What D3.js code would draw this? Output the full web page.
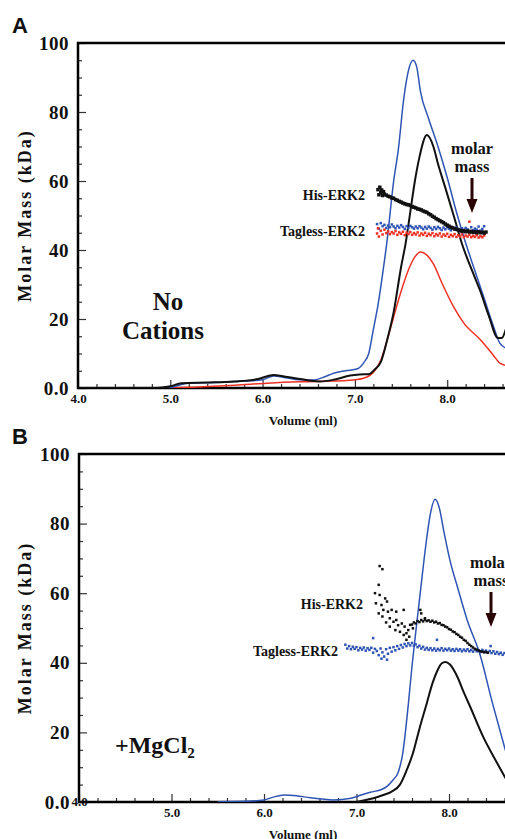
<!DOCTYPE html>
<html>
<head>
<meta charset="utf-8">
<script src="https://cdnjs.cloudflare.com/ajax/libs/d3/7.8.5/d3.min.js"></script>
<style>
body { margin: 0; background: #fff; }
svg { display: block; }
text { font-family: "Liberation Serif", "Times New Roman", serif; font-weight: bold; fill: #111; }
</style>
</head>
<body>
<svg id="chart" width="505" height="839"></svg>
<script>
// axis ticks
var volTicks = [4, 5, 6, 7, 8];
var massTicks = [0, 20, 40, 60, 80, 100];

// panel A traces [volume (ml), signal]
var aBlue = [[4.0,0],[4.8,0],[5.0,0.2],[5.1,0.9],[5.2,1.4],[5.5,1.6],[5.8,2.0],[6.0,2.4],[6.12,3.5],[6.25,3.0],[6.4,2.4],[6.55,2.3],[6.65,3.0],[6.77,4.3],[6.9,5.0],[7.03,5.6],[7.1,7.5],[7.15,10],[7.2,17],[7.25,24],[7.3,33],[7.35,43],[7.42,60],[7.47,69],[7.53,84],[7.58,92],[7.63,95],[7.67,93],[7.71,86],[7.8,78],[7.9,70],[8.0,61],[8.1,51],[8.2,42],[8.3,34],[8.4,26],[8.5,18],[8.57,13],[8.64,11.5]];
var aBlack = [[4.0,0],[4.85,0],[5.0,0.5],[5.12,1.4],[5.4,1.6],[5.69,1.9],[5.95,2.6],[6.05,3.4],[6.12,3.8],[6.22,3.4],[6.35,2.8],[6.5,2.2],[6.62,1.9],[6.77,2.4],[6.95,3.6],[7.05,3.9],[7.15,4.0],[7.22,5.5],[7.28,7.5],[7.35,14],[7.42,22],[7.5,35],[7.55,42],[7.6,51],[7.65,60],[7.7,67],[7.78,73.3],[7.85,70],[7.9,65],[7.98,58],[8.07,50],[8.17,41],[8.27,34],[8.36,28],[8.45,21],[8.55,14.5],[8.59,14.5],[8.64,17.5]];
var aRed = [[4.0,0],[4.95,0],[5.3,0.3],[5.7,0.8],[6.05,1.4],[6.4,1.8],[6.77,2.0],[6.98,2.3],[7.13,3.2],[7.2,4.5],[7.28,8],[7.36,14.8],[7.42,20.6],[7.5,28],[7.6,35.5],[7.65,38],[7.71,39.4],[7.78,38.5],[7.85,36],[7.95,30],[8.07,23.5],[8.18,18.8],[8.36,14],[8.5,9.5],[8.57,7.2],[8.64,6.5]];

// panel A molar mass points [volume, kDa]
var aHis = [[7.25,57.5],[7.26,56.0],[7.27,58.2],[7.28,56.6],[7.29,57.4],[7.30,55.8],[7.31,56.9],[7.32,56.2],[7.34,55.9],[7.36,55.6],[7.38,55.4],[7.40,55.1],[7.42,55.0],[7.44,54.6],[7.46,54.4],[7.48,54.1],[7.50,53.9],[7.52,53.6],[7.54,53.4],[7.56,53.2],[7.58,53.1],[7.60,52.9],[7.62,52.6],[7.64,52.4],[7.66,52.2],[7.68,51.9],[7.70,51.8],[7.72,51.6],[7.74,51.3],[7.76,51.1],[7.78,50.9],[7.80,50.5],[7.82,50.2],[7.84,49.8],[7.86,49.5],[7.88,49.1],[7.90,48.8],[7.92,48.5],[7.94,48.2],[7.96,47.9],[7.98,47.5],[8.00,47.2],[8.02,46.9],[8.04,46.6],[8.06,46.4],[8.08,46.2],[8.10,46.0],[8.12,45.8],[8.14,45.7],[8.16,45.4],[8.18,45.6],[8.20,45.3],[8.22,45.5],[8.24,45.2],[8.26,45.4],[8.28,45.1],[8.30,45.3],[8.32,45.0],[8.34,45.3],[8.36,45.0],[8.38,45.2],[8.40,44.9],[8.42,45.2]];
var aTagBlue = [[7.24,47.5],[7.26,46.2],[7.28,47.8],[7.30,46.9],[7.32,47.3],[7.34,46.4],[7.36,47.1],[7.38,46.6],[7.40,47.4],[7.42,46.8],[7.44,46.3],[7.46,47.0],[7.48,46.5],[7.50,47.2],[7.52,46.7],[7.54,46.1],[7.56,46.9],[7.58,46.4],[7.60,47.0],[7.62,46.6],[7.64,46.2],[7.66,46.8],[7.68,46.3],[7.70,46.9],[7.72,46.5],[7.74,46.0],[7.76,46.7],[7.78,46.2],[7.80,46.8],[7.82,46.4],[7.84,45.9],[7.86,46.6],[7.88,46.1],[7.90,46.7],[7.92,46.3],[7.94,45.8],[7.96,46.5],[7.98,46.0],[8.00,46.6],[8.02,46.2],[8.04,45.7],[8.06,46.4],[8.08,45.9],[8.10,46.5],[8.12,46.1],[8.14,45.6],[8.16,46.3],[8.18,45.8],[8.20,46.4],[8.22,46.0],[8.24,45.5],[8.26,46.6],[8.28,45.7],[8.30,46.2],[8.32,45.9],[8.34,46.8],[8.36,45.6],[8.38,46.1],[8.40,46.9]];
var aTagRed = [[7.24,44.8],[7.25,46.3],[7.26,43.9],[7.28,45.6],[7.30,44.5],[7.32,45.9],[7.34,44.9],[7.36,45.4],[7.38,44.6],[7.40,45.2],[7.42,44.8],[7.44,45.5],[7.46,44.4],[7.48,45.1],[7.50,44.7],[7.52,45.3],[7.54,44.3],[7.56,45.0],[7.58,44.6],[7.60,45.2],[7.62,44.4],[7.64,44.9],[7.66,44.5],[7.68,45.1],[7.70,44.2],[7.72,44.8],[7.74,44.4],[7.76,45.0],[7.78,44.1],[7.80,44.7],[7.82,44.3],[7.84,44.9],[7.86,44.0],[7.88,44.6],[7.90,44.2],[7.92,44.8],[7.94,43.9],[7.96,44.5],[7.98,44.1],[8.00,44.7],[8.02,43.8],[8.04,44.4],[8.06,44.0],[8.08,44.6],[8.10,43.8],[8.12,44.3],[8.14,43.9],[8.16,44.5],[8.18,43.7],[8.20,44.2],[8.22,43.9],[8.24,48.2],[8.24,44.4],[8.26,43.7],[8.28,44.1],[8.30,43.8],[8.32,44.3],[8.34,43.6],[8.36,44.0],[8.38,43.7],[8.40,44.2]];

// panel B traces
var bBlue = [[5.5,0.1],[5.8,0.2],[6.0,0.6],[6.1,1.4],[6.22,2.0],[6.35,1.8],[6.5,1.2],[6.75,0.6],[6.94,1.1],[7.05,2.0],[7.15,2.8],[7.27,3.6],[7.33,4.5],[7.39,6.2],[7.45,8.5],[7.5,14],[7.56,28],[7.6,39],[7.65,51],[7.71,65],[7.76,76],[7.8,83],[7.85,87],[7.89,85],[7.95,77],[8.01,69.5],[8.1,61],[8.2,52],[8.33,42.8],[8.47,28.4],[8.6,15.8],[8.64,12]];
var bBlack = [[7.0,0],[7.1,0.6],[7.2,1.2],[7.29,2],[7.38,3],[7.47,5],[7.54,9],[7.61,14],[7.68,21],[7.76,28.4],[7.82,34],[7.87,37.5],[7.92,39.8],[7.96,40.2],[8.01,39.5],[8.09,36],[8.16,31.5],[8.23,27.3],[8.37,18.7],[8.52,11.2],[8.64,5.5]];

// panel B molar mass points
var bHis = [[7.25,67.8],[7.28,66.9],[7.24,62.4],[7.20,60.0],[7.25,59.5],[7.31,58.5],[7.21,57.1],[7.27,56.6],[7.33,57.6],[7.29,55.2],[7.34,54.7],[7.38,55.2],[7.43,54.7],[7.51,55.2],[7.24,54.2],[7.28,53.3],[7.36,52.8],[7.40,51.8],[7.43,52.3],[7.49,51.3],[7.52,50.4],[7.56,49.4],[7.36,50.4],[7.42,49.4],[7.47,48.9],[7.54,48.5],[7.58,50.9],[7.51,48.0],[7.54,46.6],[7.70,54.2],[7.69,55.2],[7.74,52.8],[7.61,49.9],[7.32,51.6],[7.45,50.8],[7.57,47.5],
  [7.60,51.0],[7.62,51.6],[7.64,51.3],[7.66,52.0],[7.68,51.7],[7.70,52.3],[7.72,51.9],[7.74,52.4],[7.76,52.0],[7.78,52.2],[7.80,51.8],[7.82,52.1],[7.84,51.6],[7.86,51.8],[7.88,51.3],[7.90,51.4],[7.92,50.9],[7.94,50.8],[7.96,50.4],[7.98,50.2],[8.00,49.7],[8.02,49.5],[8.04,49.0],[8.06,48.8],[8.08,48.3],[8.10,48.0],[8.12,47.5],[8.14,47.2],[8.16,46.6],[8.18,46.3],[8.20,45.7],[8.22,45.2],[8.24,44.8],[8.26,44.4],[8.28,44.0],[8.30,43.8],[8.32,43.5],[8.34,43.3],[8.36,43.2],[8.38,43.0],[8.40,43.1],[8.42,42.9]];
var bTagBlue = [[6.88,45.2],[6.90,44.1],[6.92,44.8],[6.94,43.9],[6.96,44.6],[6.98,44.0],[7.00,44.5],[7.02,43.6],[7.04,44.3],[7.06,43.8],[7.08,44.4],[7.10,43.5],[7.12,44.2],[7.14,43.7],[7.16,44.3],[7.18,42.9],[7.20,44.0],[7.22,43.4],[7.24,42.2],[7.26,44.1],[7.28,43.0],[7.30,41.8],[7.32,43.9],[7.34,42.6],[7.36,44.3],[7.38,43.2],[7.40,44.5],[7.42,43.6],[7.44,44.8],[7.46,44.0],[7.48,45.1],[7.50,44.4],[7.52,45.4],[7.54,44.8],[7.56,45.6],[7.58,45.0],[7.60,45.7],[7.62,44.9],[7.64,45.3],[7.66,44.5],[7.68,44.9],[7.70,44.1],[7.72,44.6],[7.74,43.8],[7.76,44.3],[7.78,43.7],[7.80,44.2],[7.82,43.6],[7.84,44.1],[7.86,43.5],[7.88,44.0],[7.90,43.6],[7.92,44.2],[7.94,43.5],[7.96,44.0],[7.98,43.6],[8.00,44.1],[8.02,43.5],[8.04,43.9],[8.06,43.4],[8.08,44.0],[8.10,43.5],[8.12,43.9],[8.14,43.3],[8.16,43.8],[8.18,43.4],[8.20,43.9],[8.22,43.3],[8.24,43.7],[8.26,43.2],[8.28,43.8],[8.30,43.3],[8.32,43.6],[8.34,43.1],[8.36,43.7],[8.38,43.2],[8.40,43.5],[8.42,42.9],[8.44,43.4],[8.46,42.8],[8.48,43.3],[8.50,42.6],[8.52,43.1],[8.54,42.5],[8.56,42.9],[8.58,42.3],[8.60,42.8],[8.62,42.2],[8.64,42.6],[7.18,47.1],[7.87,46.6],[8.45,44.8],[7.27,41.2],[7.33,40.9]];

var blue = "#2f54b4", red = "#ee3124", black = "#111";
var W = 505;
var svg = d3.select("#chart");

function drawPanel(p) {
    var x = d3.scaleLinear().domain([4, 8]).range([p.left, p.left + 4 * p.unit]);
    var y = d3.scaleLinear().domain([0, 100]).range([p.bottom, p.top]);
    var g = svg.append("g");

    svg.append("clipPath").attr("id", "clip" + p.name)
        .append("rect")
        .attr("x", p.left).attr("y", p.top)
        .attr("width", W - p.left).attr("height", p.bottom - p.top);

    // minor ticks
    var xMinor = d3.range(4.2, 8.7, 0.2).filter(function (v) { return Math.abs(v - Math.round(v)) > 0.05; });
    g.append("g")
        .attr("transform", "translate(0," + p.bottom + ")")
        .call(d3.axisBottom(x).tickValues(xMinor).tickSizeInner(-4).tickSizeOuter(0).tickFormat(""))
        .call(function (a) { a.select(".domain").remove(); });
    g.append("g")
        .attr("transform", "translate(" + p.left + ",0)")
        .call(d3.axisLeft(y).tickValues(d3.range(5, 100, 5).filter(function (v) { return v % 20; }))
            .tickSizeInner(-4).tickSizeOuter(0).tickFormat(""))
        .call(function (a) { a.select(".domain").remove(); });

    // major ticks + labels
    var xa = g.append("g")
        .attr("class", "xaxis")
        .attr("transform", "translate(0," + p.bottom + ")")
        .call(d3.axisBottom(x).tickValues(volTicks).tickFormat(d3.format(".1f"))
            .tickSizeInner(-8).tickSizeOuter(0).tickPadding(6))
        .call(function (a) { a.select(".domain").remove(); });
    xa.selectAll("text").attr("font-family", null).style("font-size", "13px");
    if (p.name === "B") {
        xa.selectAll(".tick").filter(function (d) { return d === 4; })
            .select("text").attr("y", -5);
    }

    var ya = g.append("g")
        .attr("transform", "translate(" + p.left + ",0)")
        .call(d3.axisLeft(y).tickValues(massTicks)
            .tickFormat(function (d) { return d === 0 ? "0.0" : d; })
            .tickSizeInner(-8).tickSizeOuter(0).tickPadding(9))
        .call(function (a) { a.select(".domain").remove(); });
    ya.selectAll("text").attr("font-family", null).style("font-size", "19px").style("letter-spacing", "0.5px");
    g.selectAll(".tick line").attr("stroke", "#333").attr("stroke-width", 1.2);

    // frame: left, bottom, top
    g.append("path")
        .attr("d", "M" + W + "," + p.top + "H" + p.left + "V" + p.bottom + "H" + W)
        .attr("fill", "none")
        .attr("stroke", "#000")
        .attr("stroke-width", 2.5);

    // traces
    var line = d3.line()
        .x(function (d) { return x(d[0]); })
        .y(function (d) { return y(d[1]); })
        .curve(d3.curveMonotoneX);

    var plot = g.append("g").attr("clip-path", "url(#clip" + p.name + ")");
    p.traces.forEach(function (t) {
        plot.append("path")
            .attr("d", line(t.data))
            .attr("fill", "none")
            .attr("stroke", t.color)
            .attr("stroke-width", t.width);
    });

    // molar mass points
    p.points.forEach(function (s) {
        plot.append("g").selectAll("rect")
            .data(s.data)
            .enter()
            .append("rect")
            .attr("x", function (d) { return x(d[0]) - s.size / 2; })
            .attr("y", function (d) { return y(d[1]) - s.size / 2; })
            .attr("width", s.size)
            .attr("height", s.size)
            .attr("fill", s.color);
    });

    // panel letter
    svg.append("text")
        .attr("x", 12).attr("y", p.top - 10)
        .style("font-family", "'Liberation Sans', Arial, sans-serif")
        .style("font-size", "22px")
        .text(p.name);

    // axis titles
    svg.append("text")
        .attr("x", 303).attr("y", p.bottom + 37)
        .attr("text-anchor", "middle")
        .style("font-size", "13px")
        .text("Volume (ml)");
    svg.append("text")
        .attr("transform", "translate(31," + (p.top + p.bottom) / 2 + ") rotate(-90)")
        .attr("text-anchor", "middle")
        .style("font-size", "18px")
        .style("letter-spacing", "2px")
        .text("Molar Mass (kDa)");

    // series labels
    svg.append("text").attr("x", p.hisX).attr("y", y(p.hisY))
        .attr("text-anchor", "end").style("font-size", "14px").text("His-ERK2");
    svg.append("text").attr("x", p.tagX).attr("y", y(p.tagY))
        .attr("text-anchor", "end").style("font-size", "14px").text("Tagless-ERK2");

    // molar mass arrow
    svg.append("text").attr("x", p.arrowX).attr("y", y(p.arrowY) - 20)
        .attr("text-anchor", "middle").style("font-size", "16.5px").text("molar");
    svg.append("text").attr("x", p.arrowX).attr("y", y(p.arrowY) - 2)
        .attr("text-anchor", "middle").style("font-size", "16.5px").text("mass");
    var ay = y(p.arrowY);
    svg.append("path")
        .attr("d", "M" + (p.arrowX - 1.5) + "," + (ay + 4) + "V" + (ay + 25) + "H" + (p.arrowX - 5.5)
            + "L" + p.arrowX + "," + (ay + 39) + "L" + (p.arrowX + 5.5) + "," + (ay + 25)
            + "H" + (p.arrowX + 1.5) + "V" + (ay + 4) + "Z")
        .attr("fill", "#2a0505");
    return g;
}

drawPanel({
    name: "A", left: 78, unit: 92.3, top: 43, bottom: 388,
    traces: [
        {data: aRed, color: red, width: 1.5},
        {data: aBlue, color: blue, width: 1.5},
        {data: aBlack, color: black, width: 2}
    ],
    points: [
        {data: aTagBlue, color: blue, size: 2.5},
        {data: aTagRed, color: red, size: 2.5},
        {data: aHis, color: black, size: 3.5}
    ],
    hisX: 365, hisY: 54.5, tagX: 365, tagY: 44,
    arrowX: 472, arrowY: 62
});

drawPanel({
    name: "B", left: 79, unit: 92.5, top: 454, bottom: 802,
    traces: [
        {data: bBlue, color: blue, width: 1.5},
        {data: bBlack, color: black, width: 2}
    ],
    points: [
        {data: bTagBlue, color: blue, size: 2.5},
        {data: bHis, color: black, size: 2.5}
    ],
    hisX: 363, hisY: 55.5, tagX: 338, tagY: 42,
    arrowX: 491, arrowY: 61.5
});

// condition labels
svg.append("text").attr("x", 168).attr("y", 310).attr("text-anchor", "middle")
    .style("font-size", "25px").text("No");
svg.append("text").attr("x", 163).attr("y", 339).attr("text-anchor", "middle")
    .style("font-size", "25px").text("Cations");
var mg = svg.append("text").attr("x", 115).attr("y", 753).style("font-size", "24px");
mg.append("tspan").text("+MgCl");
mg.append("tspan").attr("dy", 5).style("font-size", "15px").text("2");
</script>
</body>
</html>
